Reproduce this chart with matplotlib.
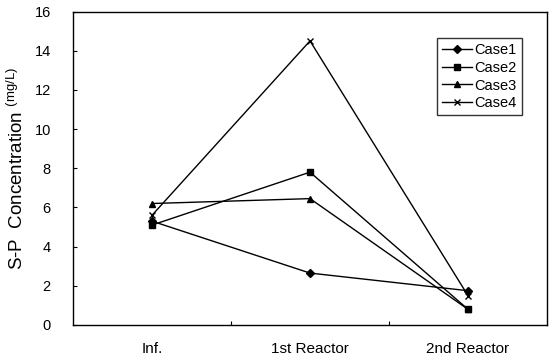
import matplotlib
matplotlib.use("Agg")
import matplotlib.pyplot as plt
import numpy as np

categories = ["Inf.", "1st Reactor", "2nd Reactor"]
case1 = [5.3, 2.65, 1.75]
case2 = [5.1, 7.8, 0.8]
case3 = [6.2, 6.45, 0.8]
case4 = [5.6, 14.5, 1.5]
series_names = ["Case1", "Case2", "Case3", "Case4"]
y_ticks = [0, 2, 4, 6, 8, 10, 12, 14, 16]

plt.rcParams['font.family'] = ['Liberation Sans', 'DejaVu Sans']
plt.rcParams['mathtext.fontset'] = 'custom'
plt.rcParams['mathtext.rm'] = 'Liberation Sans'

fig = plt.figure(figsize=(5.53, 3.56), dpi=100)
ax = fig.add_axes([73/553, 1 - 325/356, (547-73)/553, (325-11.5)/356])

x = np.arange(len(categories)) + 0.5
styles = [dict(marker='D', markersize=4), dict(marker='s', markersize=5),
          dict(marker='^', markersize=5), dict(marker='x', markersize=5, markeredgewidth=1)]
for vals, name, st in zip([case1, case2, case3, case4], series_names, styles):
    ax.plot(x, vals, color='black', linewidth=1.0, label=name, **st)

ax.set_xlim(0, 3)
ax.set_ylim(0, 16)
ax.set_yticks(y_ticks)
ax.set_xticks([1, 2])
ax.set_xticklabels([])
ax.set_xticks(x, minor=True)
ax.set_xticklabels(categories, minor=True, fontsize=11)
ax.tick_params(axis='x', which='minor', length=0, pad=12)
ax.tick_params(axis='x', which='major', direction='in', length=3)
ax.tick_params(axis='y', direction='in', length=3, labelsize=10.5, pad=16)
for s in ax.spines.values():
    s.set_linewidth(1.0)

ax.set_ylabel("S-P  Concentration $\\mathregular{^{(mg/L)}}$", fontsize=13.5, labelpad=5)

leg = ax.legend(loc='upper right', bbox_to_anchor=(0.947, 0.915), borderaxespad=0,
                frameon=True, fancybox=False,
                edgecolor='black', fontsize=10.5, handlelength=2.0, handletextpad=0.2,
                labelspacing=0.25, borderpad=0.35)
leg.get_frame().set_linewidth(1.0)

fig.savefig("out.png", dpi=100)
